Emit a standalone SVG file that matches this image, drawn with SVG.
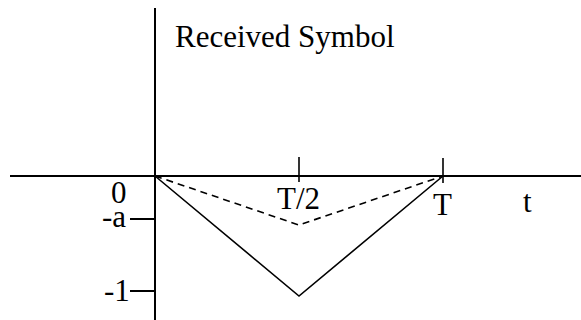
<svg xmlns="http://www.w3.org/2000/svg" width="581" height="320" viewBox="0 0 581 320">
<style>
.t{font-family:"Liberation Serif","Times New Roman",serif;font-size:31px;fill:#000}
.ax{stroke:#000;stroke-width:2;fill:none}
.ln{stroke:#000;stroke-width:1.6;fill:none}
.ds{stroke:#000;stroke-width:1.6;fill:none;stroke-dasharray:7 5}
</style>
<rect width="581" height="320" fill="#fff"/>
<g id="axes">
<line class="ax" x1="155" y1="8" x2="155" y2="320"/>
<line class="ax" x1="10" y1="176" x2="581" y2="176"/>
<line class="ln" x1="299" y1="157" x2="299" y2="182"/>
<line class="ln" x1="443" y1="158" x2="443" y2="183"/>
<line class="ax" x1="130" y1="219" x2="155" y2="219"/>
<line class="ax" x1="130" y1="291" x2="155" y2="291"/>
</g>
<g id="curves">
<polyline class="ds" points="155,176 299,225 443,176"/>
<polyline class="ln" points="155,176 299,296 443,176"/>
</g>
<g id="labels">
<text class="t" x="175" y="47">Received Symbol</text>
<text class="t" x="111" y="203">0</text>
<text class="t" x="102" y="227">-a</text>
<text class="t" x="104" y="301">-1</text>
<text class="t" x="277" y="209">T/2</text>
<text class="t" x="433" y="215">T</text>
<text class="t" x="523" y="212">t</text>
</g>
</svg>
